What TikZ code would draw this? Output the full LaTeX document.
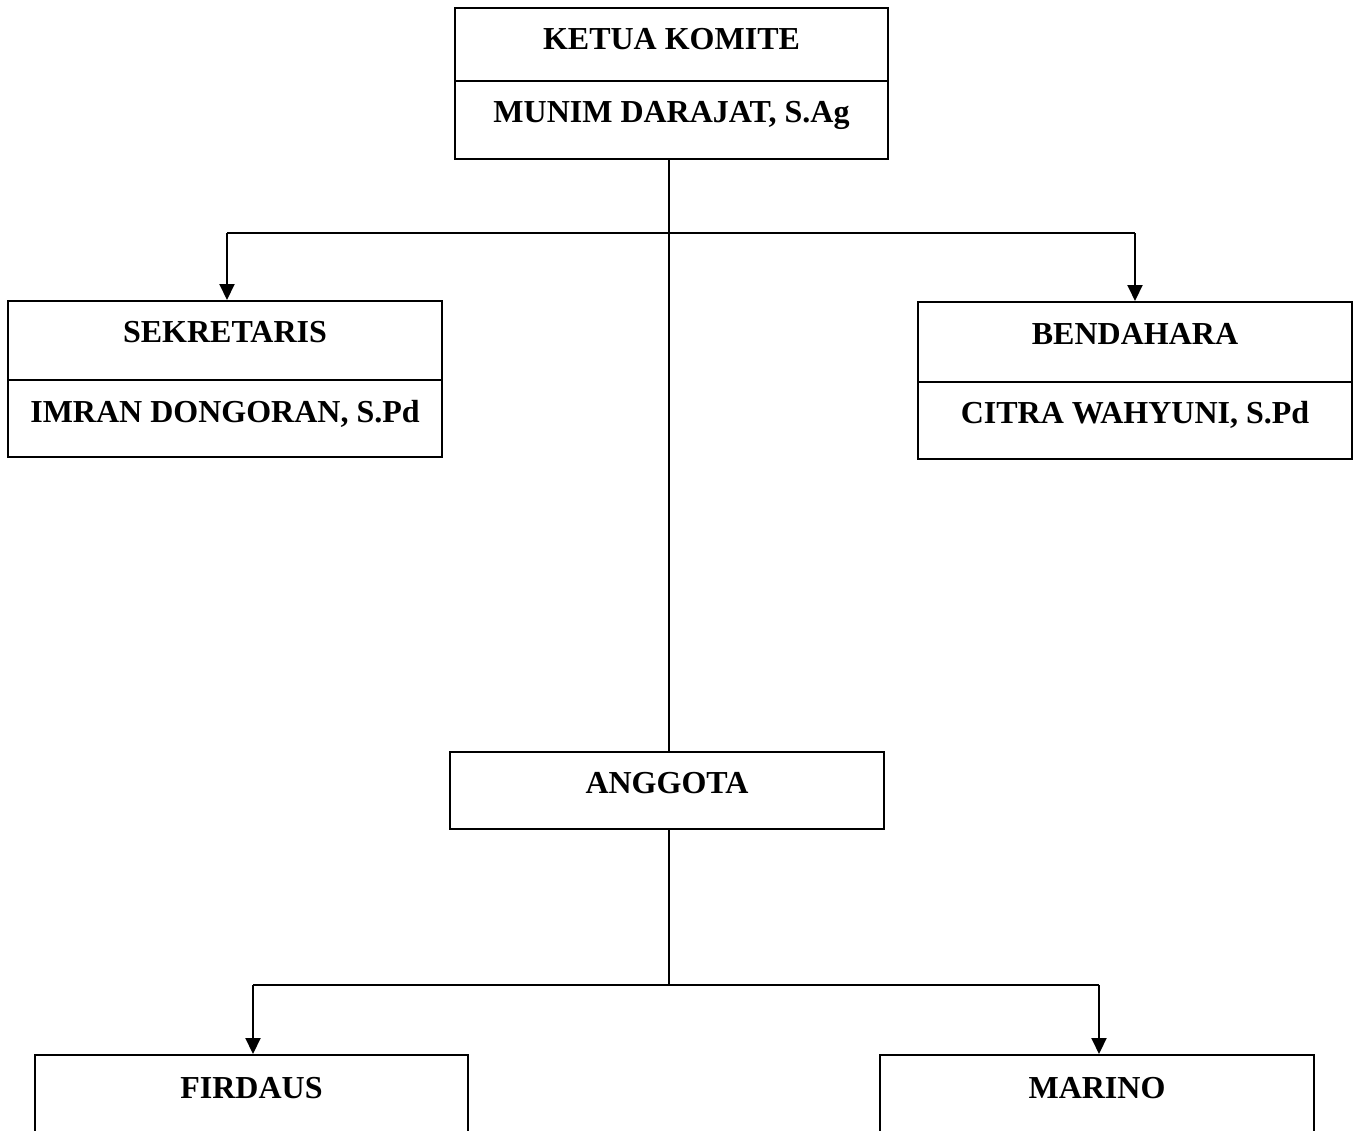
\documentclass[tikz,border=0pt]{standalone}
\usepackage{fontspec}
\setmainfont{Liberation Serif}
\usetikzlibrary{arrows.meta}
\begin{document}
\begin{tikzpicture}[x=1pt,y=-1pt,
  box/.style={draw,line width=2pt,rectangle,inner sep=0pt,minimum width=#1},
  lbl/.style={anchor=base,inner sep=0pt,font=\fontsize{32}{38}\selectfont\bfseries},
  conn/.style={line width=2pt},
  arr/.style={line width=2pt,-{Triangle[width=15pt,length=16pt]}}]
\useasboundingbox (0,0) rectangle (1359,1130);
\clip (0,0) rectangle (1359,1130);
% boxes
\node[box=433pt,minimum height=151pt] (ketua) at (671.5,83.5) {};
\node[box=434pt,minimum height=156pt] (sek) at (225,379) {};
\node[box=434pt,minimum height=157pt] (ben) at (1135,380.5) {};
\node[box=434pt,minimum height=77pt] (ang) at (667,790.5) {};
\node[box=433pt,minimum height=150pt] (fir) at (251.5,1130) {};
\node[box=434pt,minimum height=150pt] (mar) at (1097,1130) {};
% dividers
\draw[conn] (ketua.west |- 0,81) -- (ketua.east |- 0,81);
\draw[conn] (sek.west |- 0,380) -- (sek.east |- 0,380);
\draw[conn] (ben.west |- 0,382) -- (ben.east |- 0,382);
% labels
\node[lbl] (t1) at (671.5,49) {KETUA KOMITE};
\node[lbl] (t2) at (671.5,122) {MUNIM DARAJAT, S.Ag};
\node[lbl] (t3) at (225,342) {SEKRETARIS};
\node[lbl] (t4) at (225,422) {IMRAN DONGORAN, S.Pd};
\node[lbl] (t5) at (1135,344) {BENDAHARA};
\node[lbl] (t6) at (1135,423) {CITRA WAHYUNI, S.Pd};
\node[lbl] (t7) at (667,793) {ANGGOTA};
\node[lbl] (t8) at (251.5,1098) {FIRDAUS};
\node[lbl] (t9) at (1097,1098) {MARINO};
% connectors
\coordinate (j1) at (669,233);
\coordinate (j2) at (669,985);
\draw[conn] (ketua.south -| 669,0) -- (ang.north -| 669,0);
\draw[conn] (227,233) -- (1135,233);
\draw[arr] (227,233) -- (sek.north -| 227,0);
\draw[arr] (1135,233) -- (ben.north);
\draw[conn] (ang.south -| 669,0) -- (j2);
\draw[conn] (253,985) -- (1099,985);
\draw[arr] (253,985) -- (fir.north -| 253,0);
\draw[arr] (1099,985) -- (mar.north -| 1099,0);
\end{tikzpicture}
\end{document}
